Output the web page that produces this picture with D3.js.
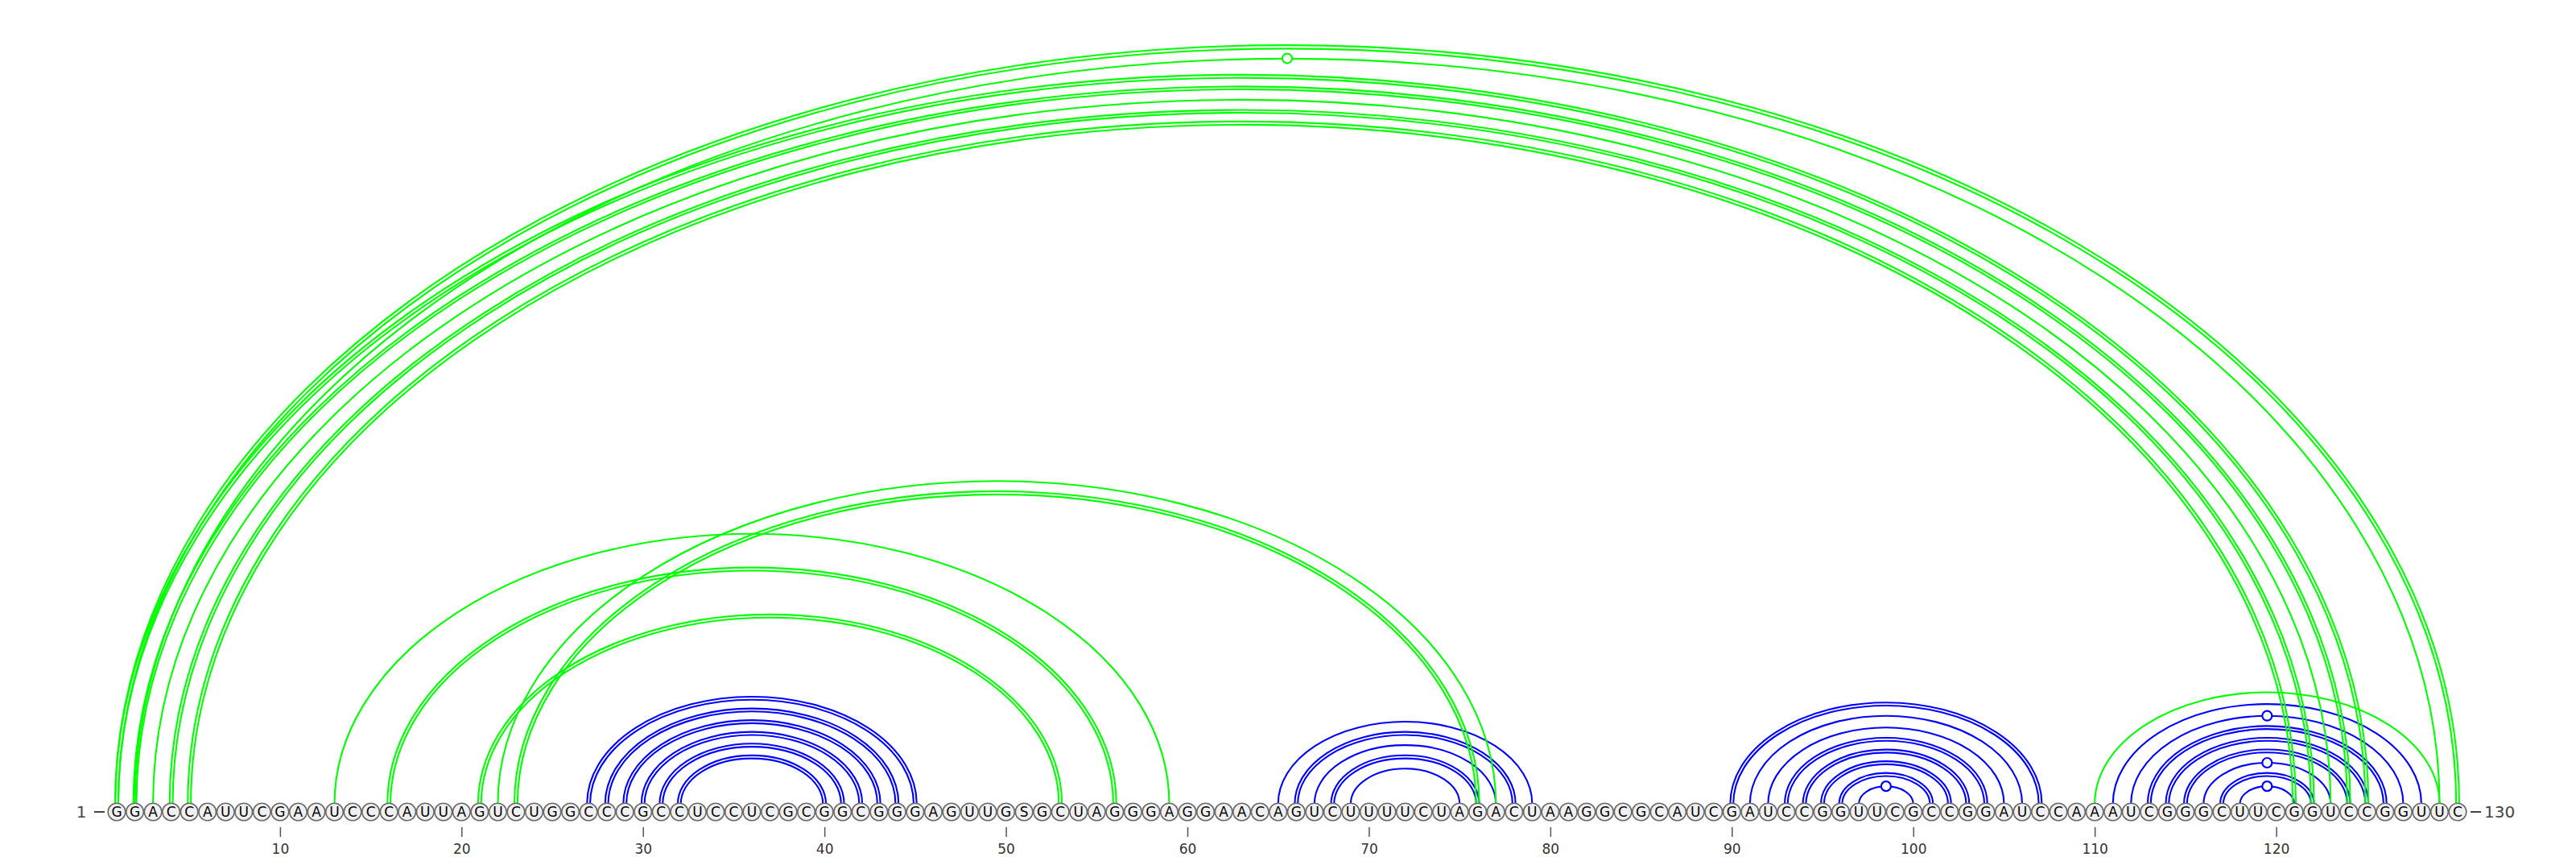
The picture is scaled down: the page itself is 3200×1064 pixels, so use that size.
<!DOCTYPE html>
<html>
<head>
<meta charset="utf-8">
<script src="https://cdn.jsdelivr.net/npm/d3@7"></script>
<style>
body { margin: 0; background: #fff; }
text { font-family: "DejaVu Sans", sans-serif; }
</style>
</head>
<body>
<svg id="chart" width="3200" height="1064"></svg>
<script>
var sequence = 'GGACCAUUCGAAUCCCAUUAGUCUGGCCCGCCUCCUCGCGGCGGGAGUUGSGCUAGGGAGGAACAGUCUUUUCUAGACUAAGGCGCAUCGAUCCGGUUCGCCGGAUCCAAAUCGGGCUUCGGUCCGGUUC';

// helices drawn in blue
var pairsBlue = [
	[27, 45], [28, 44], [29, 43], [30, 42], [31, 41], [32, 40],
	[65, 79], [66, 78], [67, 77], [68, 76], [69, 75],
	[90, 107], [91, 106], [92, 105], [93, 104], [94, 103], [95, 102], [96, 101], [97, 100],
	[111, 128], [112, 127], [113, 126], [114, 125], [115, 124], [116, 123], [117, 122], [118, 121]
];

// long range pairs drawn in green
var pairsGreen = [
	[1, 130], [2, 129], [1, 125], [2, 124], [3, 123], [4, 122], [5, 121],
	[13, 59], [16, 56], [21, 53], [22, 77], [23, 76],
	[110, 129]
];

var tickValues = [10, 20, 30, 40, 50, 60, 70, 80, 90, 100, 110, 120];

var svg = d3.select('#chart');
var n = sequence.length;
var baseY = 1008;
var arcY = 998;

var x = d3.scaleLinear().domain([1, n]).range([145, 3053]);
var arcHeight = d3.scaleLinear().domain([0, n - 1]).range([0, 940]);

function pairType(p) {
	var s = sequence[p[0] - 1] + sequence[p[1] - 1];
	if (s === 'GC' || s === 'CG') { return 'double'; }
	if (s === 'GU' || s === 'UG') { return 'wobble'; }
	return 'single';
}

function arcPath(d) {
	var x0 = x(d.i) - d.off, x1 = x(d.j) + d.off;
	var rx = (x1 - x0) / 2;
	var ry = arcHeight(d.j - d.i) + d.off;
	return 'M' + x0 + ',' + arcY + 'A' + rx + ',' + ry + ' 0 0 1 ' + x1 + ',' + arcY;
}

function drawPairs(pairs, colour) {
	var lines = [];
	pairs.forEach(function (p) {
		var offsets = pairType(p) === 'double' ? [-1.9, 1.9] : [0];
		offsets.forEach(function (off) {
			lines.push({i: p[0], j: p[1], off: off});
		});
	});

	var g = svg.append('g');
	g.selectAll('path')
		.data(lines)
		.join('path')
		.attr('d', arcPath)
		.attr('fill', 'none')
		.attr('stroke', colour)
		.attr('stroke-width', 2.1);

	g.selectAll('circle')
		.data(pairs.filter(function (p) { return pairType(p) === 'wobble'; }))
		.join('circle')
		.attr('cx', function (p) { return (x(p[0]) + x(p[1])) / 2; })
		.attr('cy', function (p) { return arcY - arcHeight(p[1] - p[0]); })
		.attr('r', 6)
		.attr('fill', '#fff')
		.attr('stroke', colour)
		.attr('stroke-width', 2.2);
}

drawPairs(pairsBlue, '#0000ff');
drawPairs(pairsGreen, '#00ff00');

var bases = svg.append('g')
	.selectAll('g')
	.data(sequence.split(''))
	.join('g')
	.attr('transform', function (d, i) { return 'translate(' + x(i + 1) + ',' + baseY + ')'; });

bases.append('circle')
	.attr('r', 10.8)
	.attr('fill', '#f0f0f0')
	.attr('stroke', '#6a6a6a')
	.attr('stroke-width', 1.6);

bases.append('text')
	.attr('text-anchor', 'middle')
	.attr('dy', '0.36em')
	.attr('font-size', 17)
	.attr('fill', '#000')
	.text(function (d) { return d; });

var axis = svg.append('g')
	.attr('transform', 'translate(0,1027)')
	.call(d3.axisBottom(x).tickValues(tickValues).tickSize(12).tickPadding(9));
axis.select('.domain').remove();
axis.selectAll('line').attr('stroke', '#555').attr('stroke-width', 1.5);
axis.selectAll('text')
	.attr('font-size', 17)
	.attr('fill', '#333')
	.style('font-family', '"DejaVu Sans", sans-serif');

// sequence ends
svg.append('text')
	.attr('x', 101).attr('y', baseY).attr('dy', '0.36em')
	.attr('text-anchor', 'middle')
	.attr('font-size', 20).attr('fill', '#444')
	.text('1');
svg.append('line')
	.attr('x1', 117).attr('x2', 130).attr('y1', baseY).attr('y2', baseY)
	.attr('stroke', '#444').attr('stroke-width', 2);
svg.append('line')
	.attr('x1', x(n) + 16).attr('x2', x(n) + 29).attr('y1', baseY).attr('y2', baseY)
	.attr('stroke', '#444').attr('stroke-width', 2);
svg.append('text')
	.attr('x', x(n) + 33).attr('y', baseY).attr('dy', '0.36em')
	.attr('font-size', 20).attr('fill', '#444')
	.text('130');
</script>
</body>
</html>
